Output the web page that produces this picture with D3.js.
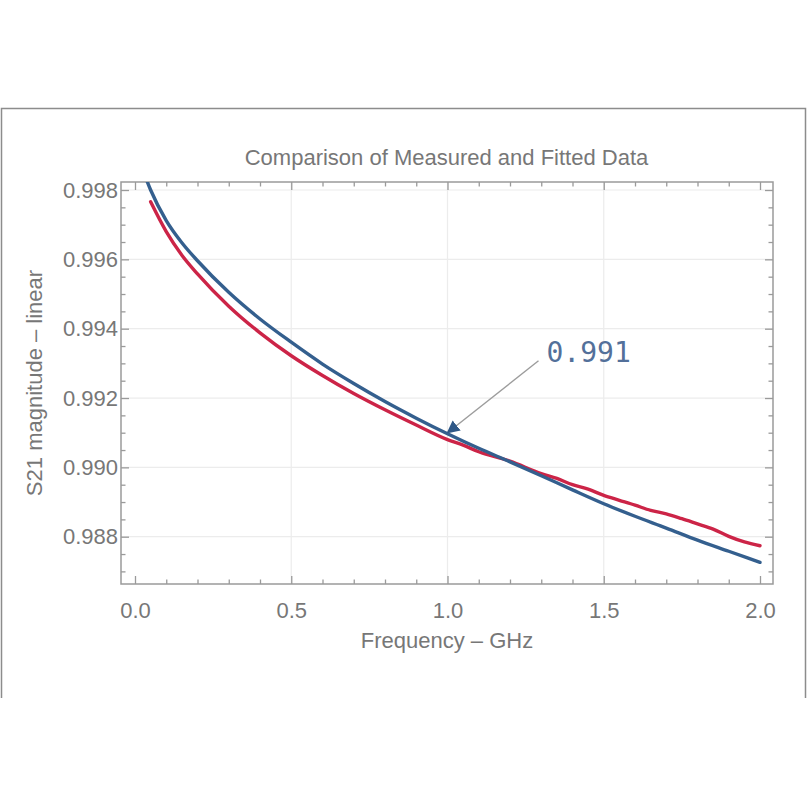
<!DOCTYPE html>
<html>
<head>
<meta charset="utf-8">
<script src="https://cdn.jsdelivr.net/npm/d3@7"></script>
<style>
	body { margin: 0; background: #ffffff; }
	text { font-family: "Liberation Sans", Arial, sans-serif; }
</style>
</head>
<body>
<script>
// data
	var fit_freq = [0.02, 0.05, 0.1, 0.15, 0.2, 0.3, 0.4, 0.5, 0.6, 0.7, 0.8, 0.9, 1.0,
		1.1, 1.2, 1.3, 1.4, 1.5, 1.6, 1.7, 1.8, 1.9, 2.0];
	var fit_s21 = [0.99870, 0.99800, 0.99712, 0.99648, 0.99596, 0.99505, 0.99428, 0.99361,
		0.99298, 0.99242, 0.99190, 0.99142, 0.99097, 0.99055, 0.99016, 0.98976, 0.98935,
		0.98895, 0.98859, 0.98825, 0.98790, 0.98758, 0.98726];

	var meas_freq = [0.05, 0.1, 0.15, 0.2, 0.3, 0.4, 0.5, 0.6, 0.7, 0.8, 0.9, 1.0, 1.05,
		1.1, 1.2, 1.3, 1.35, 1.4, 1.45, 1.5, 1.55, 1.6, 1.65, 1.7, 1.75, 1.8, 1.85, 1.9, 1.95, 2.0];
	var meas_s21 = [0.99766, 0.99680, 0.99612, 0.99558, 0.99465, 0.99388, 0.99322, 0.99265,
		0.99213, 0.99166, 0.99122, 0.99080, 0.99064, 0.99045, 0.99018, 0.98982, 0.98968,
		0.98950, 0.98937, 0.98919, 0.98905, 0.98891, 0.98876, 0.98866, 0.98852, 0.98837,
		0.98822, 0.98801, 0.98785, 0.98774];

	var x_ticks = [0, 0.5, 1.0, 1.5, 2.0],
		x_labels = ['0.0', '0.5', '1.0', '1.5', '2.0'];
	var y_ticks = [0.988, 0.990, 0.992, 0.994, 0.996, 0.998],
		y_labels = ['0.988', '0.990', '0.992', '0.994', '0.996', '0.998'];

	var note_text = '0.991',
		note_freq = 1.0,
		note_s21 = 0.99097;

// parameters for layout
	var width = 807,
		height = 807,
		p_left = 121, p_right = 773, p_top = 182, p_bottom = 584,
		frame_col = '#9a9a9a',
		label_col = '#777777',
		grid_col = '#ececec',
		blue = '#345f8e',
		red = '#cc2447';

	var x = d3.scaleLinear().domain([-0.0448, 2.0416]).range([p_left, p_right]);
	var y = d3.scaleLinear().domain([0.986636, 0.998231]).range([p_bottom, p_top]);

	var svg = d3.select('body').append('svg')
		.attr('width', width)
		.attr('height', height);

// window border of the screenshot
	svg.append('path')
		.attr('d', 'M1.5,698 V108.5 H805.5 V698')
		.attr('fill', 'none')
		.attr('stroke', '#8c8c8c')
		.attr('stroke-width', 1.5);

// grid
	svg.append('g').selectAll('line')
		.data(x_ticks.slice(1, -1))
		.join('line')
		.attr('x1', d => x(d)).attr('x2', d => x(d))
		.attr('y1', p_top).attr('y2', p_bottom)
		.attr('stroke', grid_col).attr('stroke-width', 1.2);
	svg.append('g').selectAll('line')
		.data(y_ticks)
		.join('line')
		.attr('x1', p_left).attr('x2', p_right)
		.attr('y1', d => y(d)).attr('y2', d => y(d))
		.attr('stroke', grid_col).attr('stroke-width', 1.2);

// frame ticks, inside on all four sides
	var x_minor = d3.range(0, 21).map(d => d / 10).filter(d => x_ticks.indexOf(d) < 0),
		y_minor = d3.range(0, 24).map(d => 0.9865 + d * 0.0005)
			.filter(d => d <= 0.99823 && d >= 0.98664 && y_ticks.every(t => Math.abs(t - d) > 1e-7));

	function styleAxis(g) {
		g.select('.domain').remove();
		g.selectAll('line').attr('stroke', frame_col).attr('stroke-width', 1.3);
		g.selectAll('text').attr('fill', label_col).style('font-size', '22px')
			.style('font-family', '"Liberation Sans", Arial, sans-serif');
	}

	svg.append('g').attr('transform', 'translate(0,' + p_bottom + ')')
		.call(d3.axisBottom(x).tickValues(x_ticks).tickSize(-8).tickPadding(18)
			.tickFormat((d, i) => x_labels[i]))
		.call(styleAxis);
	svg.append('g').attr('transform', 'translate(0,' + p_bottom + ')')
		.call(d3.axisBottom(x).tickValues(x_minor).tickSize(-4.5).tickFormat(''))
		.call(styleAxis);
	svg.append('g').attr('transform', 'translate(0,' + p_top + ')')
		.call(d3.axisTop(x).tickValues(x_ticks).tickSize(-8).tickFormat(''))
		.call(styleAxis);
	svg.append('g').attr('transform', 'translate(0,' + p_top + ')')
		.call(d3.axisTop(x).tickValues(x_minor).tickSize(-4.5).tickFormat(''))
		.call(styleAxis);

	svg.append('g').attr('transform', 'translate(' + p_left + ',0)')
		.call(d3.axisLeft(y).tickValues(y_ticks).tickSize(-8).tickPadding(3)
			.tickFormat((d, i) => y_labels[i]))
		.call(styleAxis);
	svg.append('g').attr('transform', 'translate(' + p_left + ',0)')
		.call(d3.axisLeft(y).tickValues(y_minor).tickSize(-4.5).tickFormat(''))
		.call(styleAxis);
	svg.append('g').attr('transform', 'translate(' + p_right + ',0)')
		.call(d3.axisRight(y).tickValues(y_ticks).tickSize(-8).tickFormat(''))
		.call(styleAxis);
	svg.append('g').attr('transform', 'translate(' + p_right + ',0)')
		.call(d3.axisRight(y).tickValues(y_minor).tickSize(-4.5).tickFormat(''))
		.call(styleAxis);

// frame outline
	svg.append('rect')
		.attr('x', p_left).attr('y', p_top)
		.attr('width', p_right - p_left).attr('height', p_bottom - p_top)
		.attr('fill', 'none')
		.attr('stroke', frame_col)
		.attr('stroke-width', 1.5);

// curves, clipped to the frame
	svg.append('clipPath').attr('id', 'plot')
	  .append('rect')
		.attr('x', p_left).attr('y', p_top)
		.attr('width', p_right - p_left).attr('height', p_bottom - p_top);

	var line = d3.line()
		.x(d => x(d[0]))
		.y(d => y(d[1]))
		.curve(d3.curveMonotoneX);

	var curves = svg.append('g').attr('clip-path', 'url(#plot)');
	curves.append('path')
		.datum(d3.zip(meas_freq, meas_s21))
		.attr('d', line)
		.attr('fill', 'none')
		.attr('stroke', red)
		.attr('stroke-width', 3.4)
		.attr('stroke-linejoin', 'round')
		.attr('stroke-linecap', 'round');
	curves.append('path')
		.datum(d3.zip(fit_freq, fit_s21))
		.attr('d', line)
		.attr('fill', 'none')
		.attr('stroke', blue)
		.attr('stroke-width', 3.4)
		.attr('stroke-linejoin', 'round')
		.attr('stroke-linecap', 'round');

// annotation arrow
	svg.append('defs').append('marker')
		.attr('id', 'head')
		.attr('viewBox', '0 0 10 10')
		.attr('refX', 9).attr('refY', 5)
		.attr('markerWidth', 13).attr('markerHeight', 13)
		.attr('markerUnits', 'userSpaceOnUse')
		.attr('orient', 'auto')
	  .append('path')
		.attr('d', 'M0,0 L10,5 L0,10 Z')
		.attr('fill', '#2f5887');

	var tip_x = x(note_freq), tip_y = y(note_s21) - 1;
	svg.append('line')
		.attr('x1', tip_x + 91).attr('y1', tip_y - 72)
		.attr('x2', tip_x).attr('y2', tip_y)
		.attr('stroke', '#9c9c9c')
		.attr('stroke-width', 1.4)
		.attr('marker-end', 'url(#head)');

	svg.append('text')
		.attr('x', tip_x + 99).attr('y', tip_y - 71)
		.style('font-family', '"DejaVu Sans Mono", monospace')
		.style('font-size', '28px')
		.attr('fill', '#53709a')
		.text(note_text);

// title and axis labels
	svg.append('text')
		.attr('x', (p_left + p_right) / 2 - 0.5).attr('y', 165)
		.attr('text-anchor', 'middle')
		.attr('fill', label_col)
		.style('font-size', '22px')
		.text('Comparison of Measured and Fitted Data');

	svg.append('text')
		.attr('x', (p_left + p_right) / 2).attr('y', 648)
		.attr('text-anchor', 'middle')
		.attr('fill', label_col)
		.style('font-size', '22px')
		.text('Frequency \u2013 GHz');

	svg.append('text')
		.attr('transform', 'translate(42,' + (p_top + p_bottom) / 2 + ') rotate(-90)')
		.attr('text-anchor', 'middle')
		.attr('fill', label_col)
		.style('font-size', '22px')
		.text('S21 magnitude \u2013 linear');
</script>
</body>
</html>
